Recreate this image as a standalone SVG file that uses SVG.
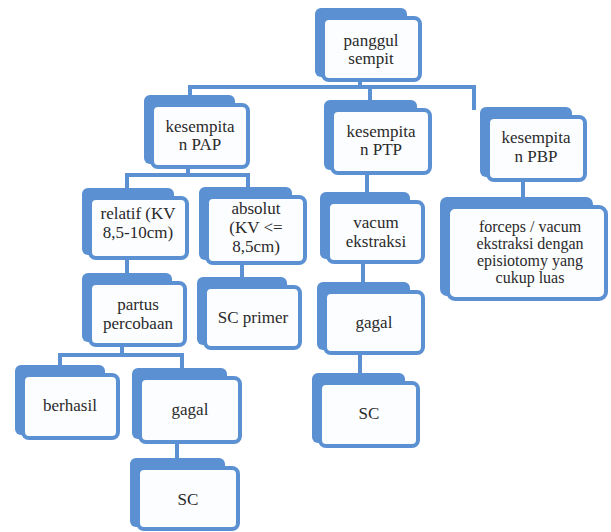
<svg xmlns="http://www.w3.org/2000/svg" width="611" height="532" viewBox="0 0 611 532">
<style>
.bk{fill:#5b90d2}
.fr{fill:#fcfdff;stroke:#5b90d2;stroke-width:4}
.t{font-family:'Liberation Serif','DejaVu Serif','Times New Roman',serif;font-size:17px;fill:#2a2a2a;text-anchor:middle}
.s{font-size:16px}
.c{stroke:#5b90d2;stroke-width:4;fill:none;stroke-linecap:square}
</style>
<rect width="611" height="532" fill="#ffffff"/>
<g id="connectors">
<path class="c" d="M360 80V87M190 87H474M190 87V96M370 87V102M474 87V108"/>
<path class="c" d="M188 167V175M127 175H248M127 175V186M248 175V188"/>
<path class="c" d="M127 258V275M242 263V280"/>
<path class="c" d="M122 345V355M60 355H182M60 355V366M182 355V370"/>
<path class="c" d="M177 442V460"/>
<path class="c" d="M367 173V193M363 262V283M360 353V373"/>
<path class="c" d="M523 180V197"/>
</g>
<g id="n-panggul">
<rect class="bk" x="315" y="8" width="92" height="69" rx="6"/>
<rect class="fr" x="323" y="18" width="97" height="62" rx="6"/>
<text class="t" x="371" y="46">panggul</text>
<text class="t" x="371" y="64">sempit</text>
</g>
<g id="n-pap">
<rect class="bk" x="144" y="95" width="91" height="69" rx="6"/>
<rect class="fr" x="152" y="105" width="96" height="62" rx="6"/>
<text class="t" x="200" y="132">kesempita</text>
<text class="t" x="200" y="150">n PAP</text>
</g>
<g id="n-ptp">
<rect class="bk" x="324" y="100" width="93" height="70" rx="6"/>
<rect class="fr" x="332" y="110" width="98" height="63" rx="6"/>
<text class="t" x="381" y="137">kesempita</text>
<text class="t" x="381" y="155">n PTP</text>
</g>
<g id="n-pbp">
<rect class="bk" x="480" y="107" width="92" height="70" rx="6"/>
<rect class="fr" x="488" y="117" width="97" height="63" rx="6"/>
<text class="t" x="536" y="143">kesempita</text>
<text class="t" x="536" y="162">n PBP</text>
</g>
<g id="n-relatif">
<rect class="bk" x="82" y="188" width="92" height="67" rx="6"/>
<rect class="fr" x="90" y="198" width="97" height="60" rx="6"/>
<text class="t" x="138" y="219">relatif (KV</text>
<text class="t" x="138" y="238">8,5-10cm)</text>
</g>
<g id="n-absolut">
<rect class="bk" x="199" y="187" width="93" height="73" rx="6"/>
<rect class="fr" x="207" y="197" width="98" height="66" rx="6"/>
<text class="t" x="256" y="214">absolut</text>
<text class="t" x="256" y="233">(KV &lt;=</text>
<text class="t" x="256" y="252">8,5cm)</text>
</g>
<g id="n-partus">
<rect class="bk" x="82" y="273" width="90" height="69" rx="6"/>
<rect class="fr" x="90" y="283" width="95" height="62" rx="6"/>
<text class="t" x="138" y="310">partus</text>
<text class="t" x="138" y="329">percobaan</text>
</g>
<g id="n-scprimer">
<rect class="bk" x="197" y="277" width="90" height="68" rx="6"/>
<rect class="fr" x="205" y="287" width="95" height="61" rx="6"/>
<text class="t" x="253" y="323">SC primer</text>
</g>
<g id="n-berhasil">
<rect class="bk" x="15" y="365" width="90" height="70" rx="6"/>
<rect class="fr" x="23" y="375" width="95" height="63" rx="6"/>
<text class="t" x="70" y="411">berhasil</text>
</g>
<g id="n-gagal1">
<rect class="bk" x="132" y="368" width="95" height="71" rx="6"/>
<rect class="fr" x="140" y="378" width="100" height="64" rx="6"/>
<text class="t" x="190" y="415">gagal</text>
</g>
<g id="n-sc1">
<rect class="bk" x="130" y="458" width="95" height="69" rx="6"/>
<rect class="fr" x="138" y="468" width="100" height="61" rx="6"/>
<text class="t" x="188" y="505">SC</text>
</g>
<g id="n-vacum">
<rect class="bk" x="320" y="192" width="90" height="67" rx="6"/>
<rect class="fr" x="328" y="202" width="95" height="60" rx="6"/>
<text class="t" x="376" y="228">vacum</text>
<text class="t" x="376" y="247">ekstraksi</text>
</g>
<g id="n-gagal2">
<rect class="bk" x="317" y="282" width="93" height="68" rx="6"/>
<rect class="fr" x="325" y="292" width="98" height="61" rx="6"/>
<text class="t" x="374" y="328">gagal</text>
</g>
<g id="n-sc2">
<rect class="bk" x="312" y="373" width="93" height="70" rx="6"/>
<rect class="fr" x="320" y="383" width="98" height="63" rx="6"/>
<text class="t" x="369" y="419">SC</text>
</g>
<g id="n-forceps">
<rect class="bk" x="440" y="197" width="153" height="99" rx="7"/>
<rect class="fr" x="448" y="207" width="158" height="92" rx="7"/>
<text class="t s" x="530" y="232">forceps / vacum</text>
<text class="t s" x="530" y="249">ekstraksi dengan</text>
<text class="t s" x="530" y="266">episiotomy yang</text>
<text class="t s" x="530" y="283">cukup luas</text>
</g>
</svg>
